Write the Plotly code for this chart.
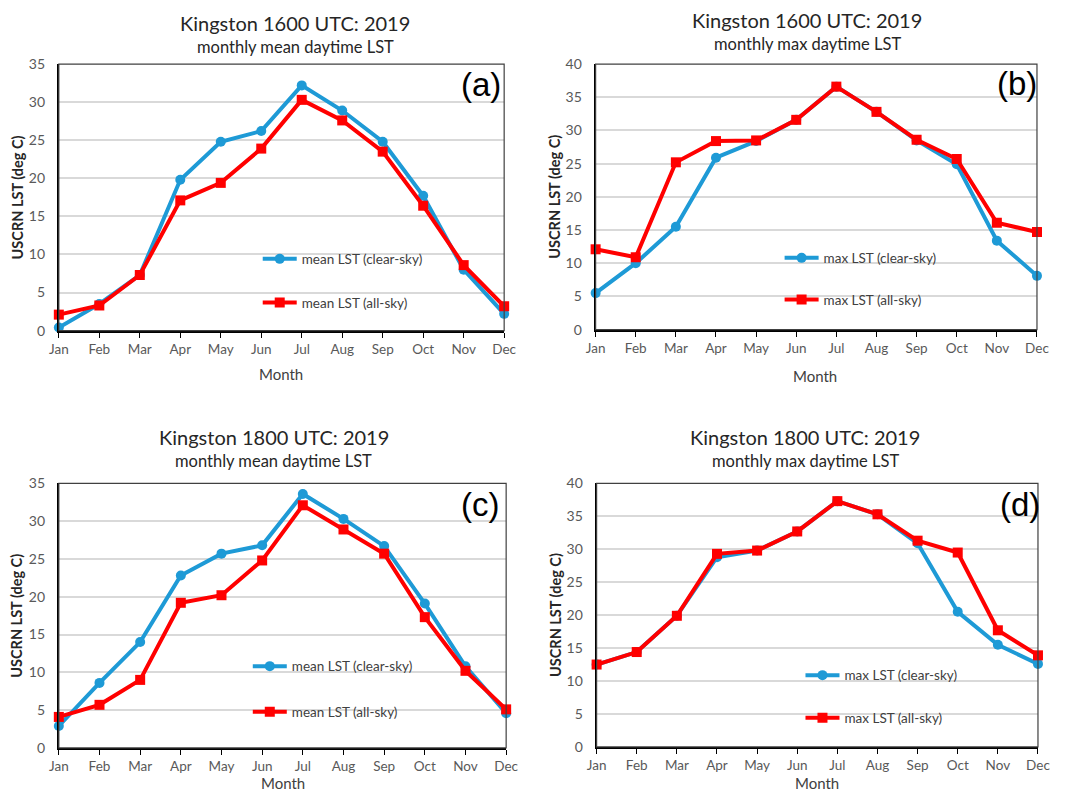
import plotly.graph_objects as go

months = ["Jan", "Feb", "Mar", "Apr", "May", "Jun",
          "Jul", "Aug", "Sep", "Oct", "Nov", "Dec"]

# (a) 1600 UTC monthly mean daytime LST
mean_clear_1600 = [0.4, 3.5, 7.3, 19.8, 24.8, 26.2, 32.2, 28.9, 24.8, 17.7, 8.0, 2.2]
mean_all_1600 = [2.1, 3.3, 7.3, 17.1, 19.4, 23.9, 30.3, 27.6, 23.5, 16.4, 8.6, 3.2]

# (b) 1600 UTC monthly max daytime LST
max_clear_1600 = [5.5, 10.0, 15.5, 25.9, 28.4, 31.6, 36.6, 32.8, 28.5, 24.9, 13.4, 8.1]
max_all_1600 = [12.1, 10.9, 25.2, 28.4, 28.5, 31.6, 36.6, 32.8, 28.6, 25.7, 16.1, 14.7]

# (c) 1800 UTC monthly mean daytime LST
mean_clear_1800 = [2.9, 8.6, 14.0, 22.8, 25.7, 26.8, 33.6, 30.3, 26.7, 19.1, 10.8, 4.6]
mean_all_1800 = [4.1, 5.7, 9.0, 19.2, 20.2, 24.8, 32.1, 28.9, 25.7, 17.3, 10.2, 5.1]

# (d) 1800 UTC monthly max daytime LST
max_clear_1800 = [12.5, 14.4, 19.9, 28.8, 29.8, 32.7, 37.3, 35.3, 30.9, 20.5, 15.5, 12.6]
max_all_1800 = [12.5, 14.4, 19.9, 29.3, 29.8, 32.7, 37.3, 35.3, 31.3, 29.5, 17.7, 13.9]

W, H = 1065, 797
PAGE_PAD = 8                      # default body margin around the figure div
SX = W / (W + 2 * PAGE_PAD)       # page -> window fit
SY = H / (H + 2 * PAGE_PAD)

BLUE = "#1E9AD6"
RED = "#FF0000"
TXT = "#404040"
FONT = "Lato, 'Open Sans', sans-serif"


def fx(x):
    """window pixel -> figure pixel (horizontal)"""
    return x / SX - PAGE_PAD


def fy(y):
    """window pixel -> figure pixel (vertical)"""
    return y / SY - PAGE_PAD


def px(x):
    return fx(x) / W


def py(y):
    return 1 - fy(y) / H


ROW_H = 20.8  # legend row height at the legend font size

panels = [
    dict(tag="(a)", title="Kingston 1600 UTC: 2019", sub="monthly mean daytime LST",
         clear=mean_clear_1600, alls=mean_all_1600, kind="mean", ymax=35,
         box=(57, 505, 63, 330), tcx=295, tty=22, tsy=46, ytx=15,
         leg=(263, 258, 43), lab=(482, 83), mx=280, my=373),
    dict(tag="(b)", title="Kingston 1600 UTC: 2019", sub="monthly max daytime LST",
         clear=max_clear_1600, alls=max_all_1600, kind="max", ymax=40,
         box=(597, 1041, 63, 329), tcx=810, tty=19, tsy=43, ytx=556,
         leg=(788, 257, 41), lab=(1021, 82), mx=818, my=375),
    dict(tag="(c)", title="Kingston 1800 UTC: 2019", sub="monthly mean daytime LST",
         clear=mean_clear_1800, alls=mean_all_1800, kind="mean", ymax=35,
         box=(57, 507, 483, 748), tcx=273, tty=437, tsy=461, ytx=15,
         leg=(253, 666, 45), lab=(481, 504), mx=283, my=783),
    dict(tag="(d)", title="Kingston 1800 UTC: 2019", sub="monthly max daytime LST",
         clear=max_clear_1800, alls=max_all_1800, kind="max", ymax=40,
         box=(598, 1042, 483, 747), tcx=808, tty=437, tsy=461, ytx=556,
         leg=(809, 675, 42), lab=(1024, 504), mx=820, my=783),
]

fig = go.Figure()
annotations = []
shapes = []

for i, p in enumerate(panels, start=1):
    sfx = "" if i == 1 else str(i)
    xa, ya = "x" + sfx, "y" + sfx
    lg = "legend" + sfx
    x0, x1, y0, y1 = p["box"]

    fig.add_trace(go.Scatter(
        x=months, y=p["clear"], xaxis=xa, yaxis=ya, mode="lines+markers",
        name=f"{p['kind']} LST (clear-sky)", legend=lg, legendgroup=f"c{i}",
        line=dict(color=BLUE, width=4), marker=dict(symbol="circle", size=10, color=BLUE),
        cliponaxis=False))
    fig.add_trace(go.Scatter(
        x=months, y=p["alls"], xaxis=xa, yaxis=ya, mode="lines+markers",
        name=f"{p['kind']} LST (all-sky)", legend=lg, legendgroup=f"a{i}",
        line=dict(color=RED, width=4), marker=dict(symbol="square", size=10, color=RED),
        cliponaxis=False))

    fig.layout["xaxis" + sfx] = dict(
        domain=[px(x0), px(x1)], anchor=ya, type="category", range=[0, 11],
        showline=True, linecolor="#000000", linewidth=2, mirror=False,
        ticks="outside", ticklen=5, tickcolor="#000000", tickwidth=1,
        showgrid=False, zeroline=False,
        tickfont=dict(family=FONT, size=13.5, color="#595959"))
    fig.layout["yaxis" + sfx] = dict(
        domain=[py(y1), py(y0)], anchor=xa, range=[0, p["ymax"]], dtick=5,
        showline=True, linecolor="#000000", linewidth=2, mirror=False,
        showgrid=True, gridcolor="#D9D9D9", gridwidth=1.5, zeroline=False,
        ticks="", ticklabelstandoff=9,
        tickfont=dict(family=FONT, size=14, color="#595959"))

    # legend: first row centre at (line start, row y), rows `spacing` apart
    lx, ly, spacing = p["leg"]
    fig.layout[lg] = dict(
        x=(fx(lx) - 6) / W, y=1 - (fy(ly) - 15.5) / H, xanchor="left", yanchor="top",
        bgcolor="rgba(0,0,0,0)", borderwidth=0,
        traceorder="grouped", tracegroupgap=spacing / SY - ROW_H, itemwidth=34,
        font=dict(family=FONT, size=13.5, color=TXT))

    # plot-area frame (thin) on top/right
    shapes.append(dict(type="rect", xref=xa + " domain", yref=ya + " domain",
                       x0=0, x1=1, y0=0, y1=1, line=dict(color="#404040", width=1.2),
                       layer="above"))

    annotations += [
        dict(text=p["title"], x=px(p["tcx"]), y=py(p["tty"]), xref="paper", yref="paper",
             showarrow=False, xanchor="center", yanchor="middle",
             font=dict(family=FONT, size=20, color="#262626")),
        dict(text=p["sub"], x=px(p["tcx"]), y=py(p["tsy"]), xref="paper", yref="paper",
             showarrow=False, xanchor="center", yanchor="middle",
             font=dict(family=FONT, size=16.5, color="#262626")),
        dict(text="USCRN LST (deg C)", x=px(p["ytx"]), y=(py(y0) + py(y1)) / 2,
             xref="paper", yref="paper", textangle=-90, showarrow=False,
             xanchor="center", yanchor="middle",
             font=dict(family=FONT, size=14.5, color="#262626", weight="bold")),
        dict(text="Month", x=px(p["mx"]), y=py(p["my"]), xref="paper", yref="paper",
             showarrow=False, xanchor="center", yanchor="middle",
             font=dict(family=FONT, size=15, color=TXT)),
        dict(text=p["tag"], x=px(p["lab"][0]), y=py(p["lab"][1]), xref="paper", yref="paper",
             showarrow=False, xanchor="center", yanchor="middle",
             font=dict(family="Liberation Sans, Arial, sans-serif", size=33, color="#000000")),
    ]

fig.update_layout(
    width=W, height=H, margin=dict(l=0, r=0, t=0, b=0),
    paper_bgcolor="white", plot_bgcolor="white",
    annotations=annotations, shapes=shapes,
    font=dict(family=FONT, color=TXT),
)

fig.write_html("out.html")
